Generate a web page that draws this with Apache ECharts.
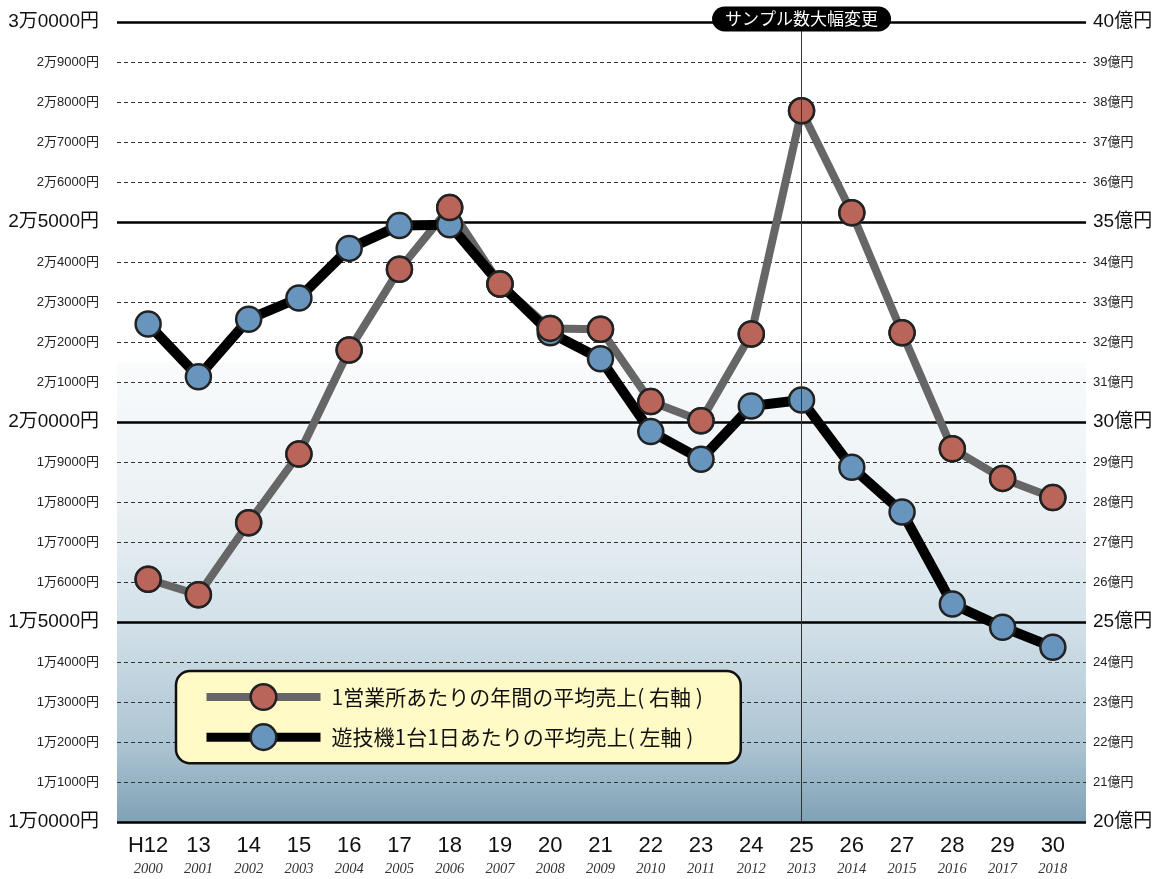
<!DOCTYPE html>
<html>
<head>
<meta charset="utf-8">
<script src="https://cdn.jsdelivr.net/npm/echarts@6/dist/echarts.min.js"></script>
<style>
html,body{margin:0;padding:0;background:#fff;}
#chart{width:1157px;height:879px;}
</style>
</head>
<body>
<div id="chart"></div>
<script>
// ---- data ----
const categories = ['H12','13','14','15','16','17','18','19','20','21','22','23','24','25','26','27','28','29','30'];
const years = ['2000','2001','2002','2003','2004','2005','2006','2007','2008','2009','2010','2011','2012','2013','2014','2015','2016','2017','2018'];
// 1営業所あたりの年間の平均売上 (億円, right axis)
const hallAnnual = [26.07, 25.68, 27.48, 29.2, 31.8, 33.82, 35.36, 33.45, 32.34, 32.32, 30.51, 30.03, 32.2, 37.78, 35.23, 32.23, 29.33, 28.59, 28.11];
// 遊技機1台1日あたりの平均売上 (円, left axis)
const machineDaily = [22450, 21130, 22570, 23100, 24340, 24910, 24930, 23450, 22230, 21580, 19760, 19070, 20400, 20550, 18870, 17750, 15450, 14870, 14370];
const hallName = '1営業所あたりの年間の平均売上( 右軸 )';
const machineName = '遊技機1台1日あたりの平均売上( 左軸 )';
const noteIndex = 13;
const noteText = 'サンプル数大幅変更';

const FONT = "'Liberation Sans','Noto Sans CJK JP',sans-serif";
const CJK = "'Noto Sans CJK JP','Liberation Sans',sans-serif";

function leftFmt(v){
  const man = Math.floor(v/10000);
  const rest = String(v % 10000).padStart(4,'0');
  const s = man + '万' + rest + '円';
  return (v % 5000 === 0) ? '{big|' + s + '}' : '{small|' + s + '}';
}
function rightFmt(v){
  const s = v + '億円';
  return (v % 5 === 0) ? '{big|' + s + '}' : '{small|' + s + '}';
}

const chart = echarts.init(document.getElementById('chart'), null, {renderer:'canvas'});
const option = {
  animation: false,
  backgroundColor: '#ffffff',
  grid: [
    {left:117, right:71, top:22, bottom:57, show:true, borderWidth:0,
     backgroundColor: {type:'linear', x:0, y:0, x2:0, y2:1, colorStops:[
       {offset:0, color:'#ffffff'},
       {offset:0.424, color:'#ffffff'},
       {offset:0.426, color:'#f9fbfc'},
       {offset:0.6, color:'#ebf1f4'},
       {offset:0.75, color:'#d3e1e9'},
       {offset:0.9, color:'#adc5d3'},
       {offset:1, color:'#7fa2b5'}
     ]}},
    {left:123, right:79, top:22, bottom:57}
  ],
  xAxis: [
    {gridIndex:0, type:'value', min:0, max:1, show:false},
    {gridIndex:1, type:'category', data:categories, boundaryGap:true,
     axisLine:{show:false}, axisTick:{show:false}, splitLine:{show:false},
     axisLabel:{margin:12, interval:0,
       formatter:function(v, i){ return '{a|' + v + '}\n{b|' + years[i] + '}'; },
       rich:{
         a:{fontSize:22, fontFamily:"'Liberation Sans Narrow','Liberation Sans',sans-serif", color:'#111', lineHeight:24, align:'center'},
         b:{fontSize:14.5, fontFamily:"'Liberation Serif',serif", fontStyle:'italic', color:'#333', lineHeight:22, align:'center'}
       }}}
  ],
  yAxis: [
    {gridIndex:0, type:'value', position:'left', min:10000, max:30000, interval:1000,
     axisLine:{show:false}, axisTick:{show:false},
     splitLine:{show:true, lineStyle:{color:'#333', width:1, type:[4,3]}},
     axisLabel:{margin:18, formatter:leftFmt, rich:{
       big:{fontSize:19, fontFamily:FONT, color:'#111'},
       small:{fontSize:13, fontFamily:FONT, color:'#222'}}}},
    {gridIndex:0, type:'value', position:'right', min:20, max:40, interval:1,
     axisLine:{show:false}, axisTick:{show:false}, splitLine:{show:false},
     axisLabel:{margin:7, formatter:rightFmt, rich:{
       big:{fontSize:19, fontFamily:FONT, color:'#111'},
       small:{fontSize:13, fontFamily:FONT, color:'#222'}}}},
    {gridIndex:0, type:'value', position:'left', min:10000, max:30000, interval:5000,
     axisLine:{show:false}, axisTick:{show:false}, axisLabel:{show:false},
     splitLine:{show:true, lineStyle:{color:'#000', width:2.5, type:'solid'}}},
    {gridIndex:1, type:'value', min:10000, max:30000, show:false, splitLine:{show:false}},
    {gridIndex:1, type:'value', min:20, max:40, show:false, splitLine:{show:false}}
  ],
  legend: {
    orient:'vertical', left:176, top:671,
    data:[
      {name:hallName, itemStyle:{color:'#b9655a', borderColor:'#222', borderWidth:2.5}, lineStyle:{color:'#666', width:8}},
      {name:machineName, itemStyle:{color:'#6895bd', borderColor:'#222', borderWidth:2.5}, lineStyle:{color:'#000', width:9}}
    ],
    itemWidth:114, itemHeight:32, itemGap:12,
    padding:[12, 38, 12, 26],
    backgroundColor:'#fffac6', borderColor:'#111', borderWidth:2.5, borderRadius:14,
    textStyle:{fontSize:21, fontFamily:CJK, color:'#111', padding:[0,0,0,6]}
  },
  series: [
    {name:hallName, type:'line', xAxisIndex:1, yAxisIndex:4, data:hallAnnual, z:2,
     symbol:'circle', symbolSize:25,
     lineStyle:{color:'#666', width:8},
     itemStyle:{color:'#b9655a', borderColor:'#222', borderWidth:2.5},
     markLine:{silent:true, symbol:['none','none'], label:{show:false},
       lineStyle:{color:'#333', width:1, type:'solid'},
       data:[{xAxis:noteIndex}]},
     markPoint:{silent:true, symbol:'rect', symbolSize:1, itemStyle:{color:'rgba(0,0,0,0)'},
       label:{show:true, position:'inside', formatter:noteText, color:'#fff', fontSize:17, fontFamily:CJK,
         backgroundColor:'#000', borderRadius:13, padding:[4,13,4,13], offset:[0,-3]},
       data:[{coord:[noteIndex, 40]}]}
    },
    {name:machineName, type:'line', xAxisIndex:1, yAxisIndex:3, data:machineDaily, z:3,
     symbol:'circle', symbolSize:25,
     lineStyle:{color:'#000', width:10},
     itemStyle:{color:'#6895bd', borderColor:'#222', borderWidth:2.5}
    },
    {name:'_hallPts', type:'line', xAxisIndex:1, yAxisIndex:4, data:hallAnnual, z:4,
     symbol:'circle', symbolSize:25,
     lineStyle:{width:0, opacity:0},
     itemStyle:{color:'#b9655a', borderColor:'#222', borderWidth:2.5}
    }
  ]
};
chart.setOption(option);
</script>
</body>
</html>
